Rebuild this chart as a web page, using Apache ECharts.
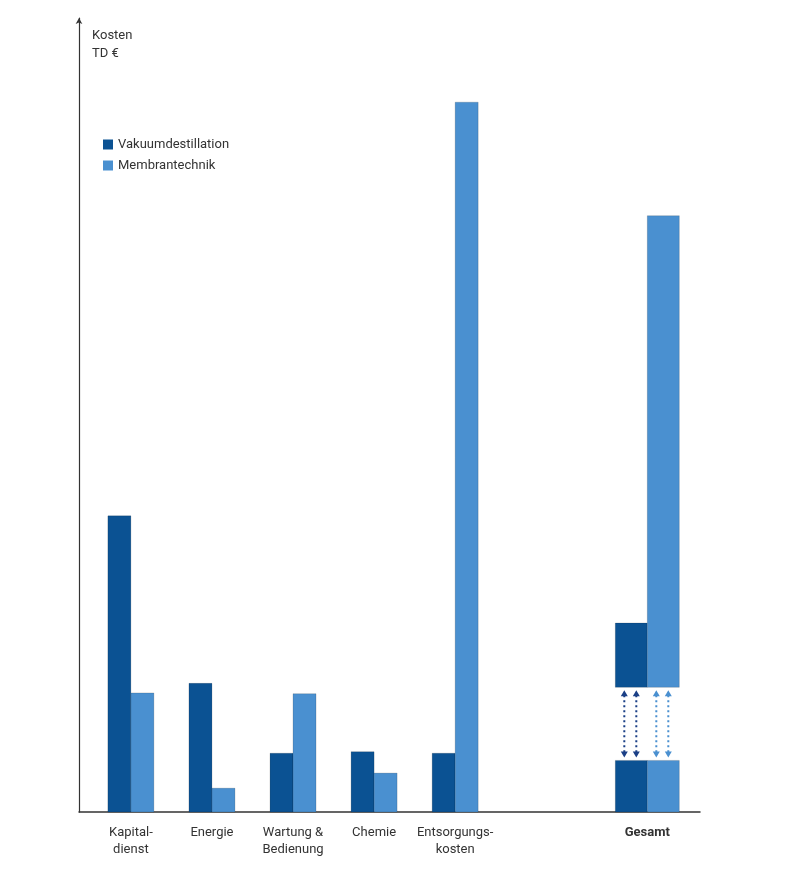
<!DOCTYPE html>
<html><head><meta charset="utf-8">
<script src="https://cdn.jsdelivr.net/npm/echarts@6/dist/echarts.min.js"></script>
<style>body{margin:0;background:#fff}#c{width:790px;height:869px}</style>
</head><body><div id="c"></div>
<script>
var categories = ['Kapital-\ndienst', 'Energie', 'Wartung &\nBedienung', 'Chemie', 'Entsorgungs-\nkosten', 'Gesamt'];
var positions = [1, 2, 3, 4, 5, 7.37];
var vakuum = [37.3, 16.2, 7.4, 7.6, 7.4, 23.8];
var membran = [15.0, 3.0, 14.9, 4.9, 89.4, 75.1];
// broken axis on the Gesamt column
var breakLow = 6.5;
var breakHigh = 15.7;

var dark = '#0b5293', light = '#4a90d0';

function makeRender(side, color, arrowColor) {
  return function (params, api) {
    var i = params.dataIndex;
    var x = api.value(0), v = api.value(1);
    var gesamt = i === positions.length - 1;
    var bw = gesamt ? 32 : 23;
    var c = api.coord([x, 0])[0];
    var x0 = side < 0 ? c - bw : c;
    var y0 = api.coord([x, 0])[1];
    var style = {fill: color, stroke: 'rgba(0,0,0,0.15)', lineWidth: 1};
    var children = [];
    if (!gesamt) {
      var yt = api.coord([x, v])[1];
      children.push({type: 'rect', shape: {x: x0, y: yt, width: bw, height: y0 - yt}, style: style});
    } else {
      var yl = api.coord([x, breakLow])[1];
      var yh = api.coord([x, breakHigh])[1];
      var yt2 = api.coord([x, v])[1];
      children.push({type: 'rect', shape: {x: x0, y: yl, width: bw, height: y0 - yl}, style: style});
      children.push({type: 'rect', shape: {x: x0, y: yt2, width: bw, height: yh - yt2}, style: style});
      [x0 + bw / 2 - 7, x0 + bw / 2 + 5].forEach(function (ax) {
        var a = yh + 3, b = yl - 3;
        children.push({type: 'line', shape: {x1: ax, y1: a + 5, x2: ax, y2: b - 5},
          style: {stroke: arrowColor, lineWidth: 2, lineDash: [2, 3]}});
        children.push({type: 'polygon', shape: {points: [[ax, a], [ax - 3.5, a + 6], [ax + 3.5, a + 6]]}, style: {fill: arrowColor}});
        children.push({type: 'polygon', shape: {points: [[ax, b], [ax - 3.5, b - 6], [ax + 3.5, b - 6]]}, style: {fill: arrowColor}});
      });
    }
    return {type: 'group', children: children};
  };
}

var chart = echarts.init(document.getElementById('c'));
chart.setOption({
  animation: false,
  textStyle: {fontFamily: 'Roboto', color: '#333'},
  grid: {left: 79, right: 90, top: 18, bottom: 57},
  legend: {
    orient: 'vertical', left: 98, top: 133, itemWidth: 10, itemHeight: 10, itemGap: 8, icon: 'rect',
    textStyle: {fontSize: 13, color: '#333'},
    data: [{name: 'Vakuumdestillation', itemStyle: {color: dark}}, {name: 'Membrantechnik', itemStyle: {color: light}}]
  },
  graphic: [{type: 'text', left: 92, top: 27, style: {text: 'Kosten\nTD €', fontSize: 13, lineHeight: 18, fill: '#333', fontFamily: 'Roboto'}}],
  xAxis: {
    type: 'value', min: 0.36, max: 8.02, splitLine: {show: false},
    axisLine: {show: true, onZero: false, lineStyle: {color: '#333', width: 1.5}},
    axisTick: {show: false},
    axisLabel: {
      customValues: positions, margin: 12, fontSize: 13, lineHeight: 17, color: '#333',
      formatter: function (v) {
        var i = positions.indexOf(v);
        if (i === positions.length - 1) return '{b|' + categories[i] + '}';
        return categories[i];
      },
      rich: {b: {fontWeight: 'bold', fontSize: 13}}
    }
  },
  yAxis: {
    type: 'value', min: 0, max: 100, splitLine: {show: false},
    axisLine: {show: true, symbol: ['none', 'arrow'], symbolSize: [5, 6], lineStyle: {color: '#333', width: 1.2}},
    axisTick: {show: false}, axisLabel: {show: false}
  },
  series: [
    {name: 'Vakuumdestillation', type: 'custom', itemStyle: {color: dark}, renderItem: makeRender(-1, dark, '#1a3f86'),
      data: positions.map(function (p, i) { return [p, vakuum[i]]; })},
    {name: 'Membrantechnik', type: 'custom', itemStyle: {color: light}, renderItem: makeRender(1, light, '#4a90d0'),
      data: positions.map(function (p, i) { return [p, membran[i]]; })}
  ]
});
</script></body></html>
